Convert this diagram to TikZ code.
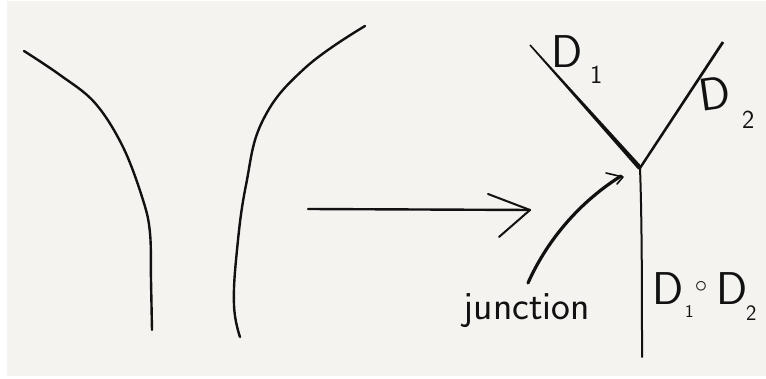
\documentclass[tikz,border=0pt]{standalone}
\usepackage{fontspec}
\begin{document}
\begin{tikzpicture}[x=1pt,y=-1pt,
  pen/.style={draw=ink,line cap=round,line join=round},
  lbl/.style={inner sep=0pt,font=\sffamily\fontsize{46}{46}\selectfont,text=ink},
  sub/.style={inner sep=0pt,font=\sffamily\fontsize{26}{26}\selectfont,text=ink},
  word/.style={inner sep=0pt,font=\sffamily\fontsize{40}{40}\selectfont,text=ink}]
\definecolor{paper}{HTML}{F4F3EF}
\definecolor{ink}{HTML}{111111}
\useasboundingbox (0,0) rectangle (766,379);
\fill[white] (0,0) rectangle (766,379);
\fill[paper] (7,1) rectangle (766,376);
% left pair of curves
\draw[pen,line width=2.4] plot[smooth,tension=0.6] coordinates {(24,51) (60,75) (95,103) (123,147) (143,200) (150,233) (151,280) (152,330)};
\draw[pen,line width=2.4] plot[smooth,tension=0.7] coordinates {(365,26) (305,68) (263,120) (246,185) (237,250) (234,305) (240,337)};
% big arrow
\coordinate (a0) at (308,209);
\coordinate (a1) at (530,210);
\coordinate (h1) at (488,194);
\coordinate (h2) at (499,237);
\draw[pen,line width=2.4] (a0) -- (a1);
\draw[pen,line width=2] (h1) -- (a1) -- (h2);
% Y shape
\coordinate (j) at (640,168);
\coordinate (t1) at (530,45);
\coordinate (t2) at (723,42);
\coordinate (b) at (642,357);
\fill[ink] (529.4,45.5) -- (530.6,44.5) -- (641.8,166.5) -- (638.2,169.5) -- cycle;
\fill[ink] (721.8,41.3) -- (724.2,42.7) -- (641,168.7) -- (639,167.3) -- cycle;
\draw[pen,line width=2] (j) .. controls (642,220) and (642,300) .. (b);
% junction arrow
\coordinate (p0) at (528,283);
\coordinate (p1) at (621,176);
\draw[pen,line width=3.2] (p0) .. controls (545,245) and (575,205) .. (p1);
\draw[pen,line width=1.6] (606,173) -- (623,177) -- (617,184);
% labels
\node[lbl,anchor=base west] (d1) at (551,68) {D};
\node[sub,anchor=base west] (d1s) at (590,84) {1};
\node[lbl,anchor=base west,rotate=8] (d2) at (701,112) {D};
\node[sub,anchor=base west] (d2s) at (742,129) {2};
\node[word,anchor=base] (jn) at (527,320) {junction};
\node[lbl,anchor=base west] (e1) at (652,305) {D};
\node[sub,font=\sffamily\fontsize{18}{18}\selectfont,anchor=base west] (e1s) at (685,318) {1};
\node[inner sep=0pt,font=\fontsize{30}{30}\selectfont,text=ink] (op) at (701,287) {$\circ$};
\node[lbl,anchor=base west] (e2) at (716,305) {D};
\node[sub,font=\sffamily\fontsize{22}{22}\selectfont,anchor=base west] (e2s) at (746,321) {2};
\end{tikzpicture}
\end{document}
